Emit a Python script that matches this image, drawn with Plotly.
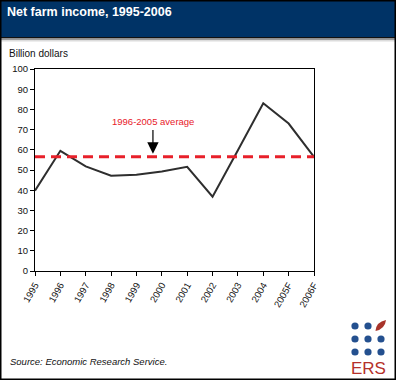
import plotly.graph_objects as go

years = ["1995", "1996", "1997", "1998", "1999", "2000", "2001", "2002", "2003", "2004", "2005F", "2006F"]
income = [39.8, 59.5, 51.8, 47.2, 47.6, 49.3, 51.6, 36.8, 59.8, 83.0, 73.0, 56.5]
average = 56.5
avg_label = "1996-2005 average"
title = "Net farm income, 1995-2006"
unit = "Billion dollars"
source = "Source: Economic Research Service."

W, H = 396, 380
L, R, T, B = 35, 314, 69, 271


def px(x):
    return (x - L) / (R - L)


def py(y):
    return (B - y) / (B - T)


fig = go.Figure()
fig.add_trace(go.Scatter(x=list(range(len(years))), y=income, mode="lines",
                         line=dict(color="#2e2e2e", width=2), hoverinfo="skip"))

shapes = []
# header
shapes.append(dict(type="rect", xref="paper", yref="paper", x0=px(0), x1=px(W), y0=py(0), y1=py(37),
                   fillcolor="#003366", line=dict(width=0), layer="below"))
shapes.append(dict(type="rect", xref="paper", yref="paper", x0=px(0), x1=px(W), y0=py(37), y1=py(38.5),
                   fillcolor="#111111", line=dict(width=0)))
shapes.append(dict(type="rect", xref="paper", yref="paper", x0=px(0), x1=px(W), y0=py(38.5), y1=py(40),
                   fillcolor="#9a9a9a", line=dict(width=0)))
shapes.append(dict(type="rect", xref="paper", yref="paper", x0=px(0), x1=px(W), y0=py(40), y1=py(41.5),
                   fillcolor="#dcdcdc", line=dict(width=0)))
# outer border
shapes.append(dict(type="rect", xref="paper", yref="paper", x0=px(0.75), x1=px(W - 0.75), y0=py(0.75), y1=py(H - 0.75),
                   line=dict(color="#000000", width=1.5)))
# average line
shapes.append(dict(type="line", xref="paper", yref="y", x0=0, x1=1, y0=average, y1=average,
                   line=dict(color="#e8202a", width=3, dash="10px,6px")))
# logo dots
for r, cy in enumerate([326, 339, 352]):
    for c, cx in enumerate([355, 368, 381]):
        if r == 0 and c == 2:
            continue
        shapes.append(dict(type="circle", xref="paper", yref="paper",
                           x0=px(cx - 3.6), x1=px(cx + 3.6), y0=py(cy - 3.6), y1=py(cy + 3.6),
                           fillcolor="#24508f", line=dict(width=0)))
# leaf
leaf = (f"M {px(375.5)} {py(331)} Q {px(376)} {py(322)} {px(386)} {py(320)} "
        f"Q {px(385)} {py(329)} {px(375.5)} {py(331)} Z")
shapes.append(dict(type="path", xref="paper", yref="paper", path=leaf,
                   fillcolor="#a8342a", line=dict(width=0)))

annotations = [
    dict(text=f"<b>{title}</b>", xref="paper", yref="paper", x=px(5), y=py(3), xanchor="left", yanchor="top",
         showarrow=False, font=dict(family="Liberation Sans, Arial", size=12.5, color="white")),
    dict(text=unit, xref="paper", yref="paper", x=px(7), y=py(46), xanchor="left", yanchor="top",
         showarrow=False, font=dict(family="Liberation Sans, Arial", size=10, color="#111111")),
    dict(text=f"<i>{source}</i>", xref="paper", yref="paper", x=px(8), y=py(361), xanchor="left", yanchor="middle",
         showarrow=False, font=dict(family="Liberation Sans, Arial", size=9.5, color="#111111")),
    dict(text="ERS", xref="paper", yref="paper", x=px(368), y=py(368), xanchor="center", yanchor="middle",
         showarrow=False, font=dict(family="Liberation Sans, Arial", size=17, color="#b5302a")),
    dict(text=avg_label, xref="x", yref="paper", x=4.65, y=py(121), xanchor="center", yanchor="middle",
         showarrow=False, font=dict(family="Liberation Sans, Arial", size=9.5, color="#e8202a")),
    dict(text="", x=4.65, y=average + 1.6, xref="x", yref="y", ax=4.65, ay=average + 14, axref="x", ayref="y",
         showarrow=True, arrowhead=2, arrowsize=1.9, arrowwidth=1.2, arrowcolor="#000000"),
]

fig.update_layout(
    width=W, height=H, autosize=False,
    margin=dict(l=L, r=W - R, t=T, b=H - B),
    paper_bgcolor="white", plot_bgcolor="white",
    showlegend=False,
    shapes=shapes, annotations=annotations,
    font=dict(family="Liberation Sans, Arial", size=9, color="#111111"),
    xaxis=dict(range=[0, len(years) - 1], tickmode="array", tickvals=list(range(len(years))), ticktext=years,
               tickangle=-60, ticks="outside", ticklen=4, tickcolor="#000", showline=True, linecolor="#000",
               linewidth=1, mirror=True, showgrid=False, zeroline=False, tickfont=dict(size=9.5)),
    yaxis=dict(range=[0, 100], dtick=10, ticks="outside", ticklen=4, tickcolor="#000", showline=True,
               linecolor="#000", linewidth=1, mirror=True, showgrid=False, zeroline=False,
               tickfont=dict(size=9.5)),
)

fig.write_html("out.html", config={"displayModeBar": False},
               post_script="document.body.style.margin='0';document.body.style.overflow='hidden';")
